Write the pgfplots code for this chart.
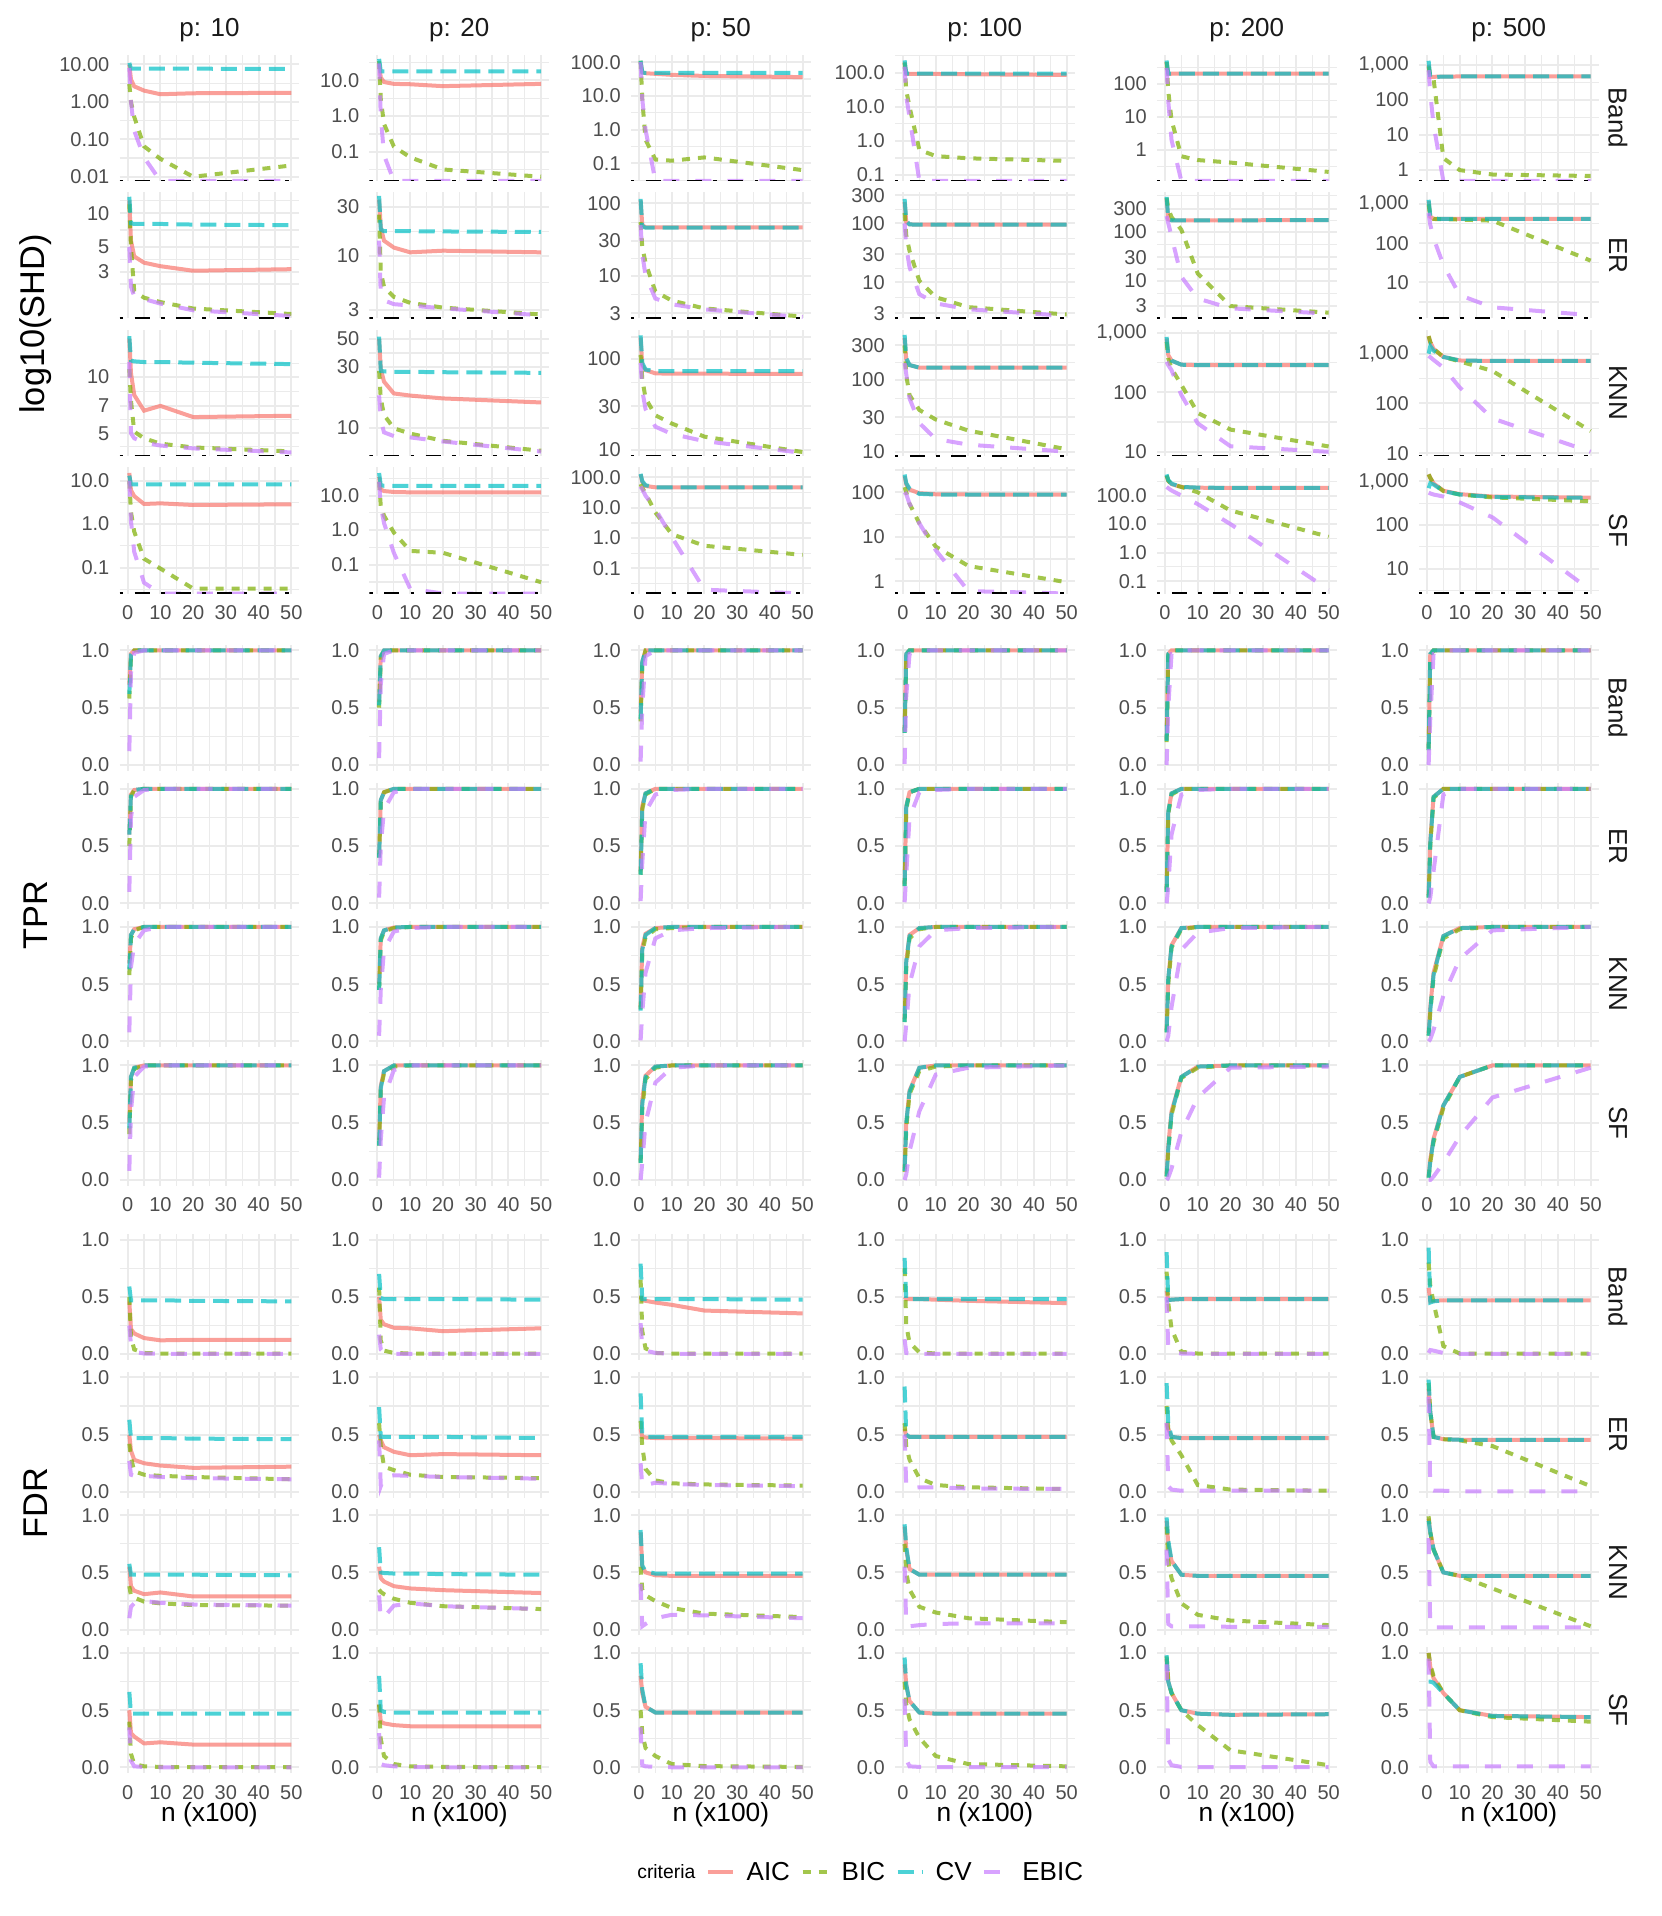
\documentclass[border=0pt]{standalone}
\usepackage{pgfplots}
\pgfplotsset{compat=1.18}
\usepackage{fontspec}
\setmainfont{Liberation Sans}
\definecolor{aicc}{HTML}{F8766D}
\definecolor{bicc}{HTML}{7CAE00}
\definecolor{cvc}{HTML}{00BFC4}
\definecolor{ebicc}{HTML}{C77CFF}
\definecolor{gridc}{HTML}{EBEBEB}
\definecolor{tickc}{HTML}{4D4D4D}
\definecolor{stripc}{HTML}{1A1A1A}
\pgfplotsset{
 base/.style={scale only axis, width=54pt, height=37.8pt, anchor=north west,
  xmin=-2.5, xmax=52.5, xtick={0,10,20,30,40,50}, minor xtick={5,15,25,35,45},
  xticklabels={}, grid=both,
  major grid style={line width=0.6pt, draw=gridc},
  minor grid style={line width=0.35pt, draw=gridc},
  axis line style={draw=none}, tick style={draw=none},
  ticklabel style={font=\fontsize{6}{6}\selectfont, text=tickc, inner sep=0pt},
  yticklabel style={anchor=east, xshift=-2.85pt},
  xticklabel style={anchor=north, yshift=-3.4pt},
 },
 shd/.style={base},
 lin/.style={base, ymin=-0.05, ymax=1.05, ytick={0,0.5,1}, yticklabels={0.0,0.5,1.0}, minor ytick={0.25,0.75}},
 xl/.style={xticklabels={0,10,20,30,40,50}},
 aic/.style={draw=aicc, line width=1.2pt, draw opacity=0.7, mark=none},
 bic/.style={draw=bicc, line width=1.2pt, draw opacity=0.7, dash pattern=on 2.4pt off 2.4pt, mark=none},
 cv/.style={draw=cvc, line width=1.2pt, draw opacity=0.7, dash pattern=on 4.8pt off 2.4pt, mark=none},
 ebic/.style={draw=ebicc, line width=1.2pt, draw opacity=0.7, dash pattern=on 4.8pt off 4.8pt, mark=none},
 ref/.style={draw=black, line width=0.7pt, dash pattern=on 1.1pt off 3.4pt on 4.5pt off 3.4pt, mark=none},
}
\begin{document}
\begin{tikzpicture}
\path[use as bounding box] (0,0) rectangle (498.3pt,-574.8pt);
% ================= SHD =================
% r1 Band
\begin{axis}[ymode=log, shd, at={(35.85pt,-16.5pt)}, ymin=0.0077, ymax=17.9, ytick={0.01,0.1,1,10}, yticklabels={0.01,0.10,1.00,10.00}, minor ytick={0.0316,0.316,3.16}]
\addplot[aic] coordinates {(0.5,10)(1,4)(2,2.6)(5,2.0)(10,1.6)(20,1.7)(50,1.75)};
\addplot[bic] coordinates {(0.5,3)(1,1.0)(2,0.4)(5,0.065)(10,0.03)(20,0.01)(50,0.02)};
\addplot[cv] coordinates {(0.5,11)(1,7.7)(2,7.7)(5,7.7)(10,7.7)(20,7.7)(50,7.6)};
\addplot[ebic] coordinates {(0.5,8)(1,1.0)(2,0.17)(5,0.033)(10,0.0077)(20,0.0077)(50,0.0077)};
\addplot[ref] coordinates {(-2.5,0.0077)(52.5,0.0077)};
\end{axis}
\begin{axis}[ymode=log, shd, at={(110.79pt,-16.5pt)}, ymin=0.0152, ymax=51.5, ytick={0.1,1,10}, yticklabels={0.1,1.0,10.0}, minor ytick={0.0316,0.316,3.16,31.6}]
\addplot[aic] coordinates {(0.5,30)(1,12)(2,9)(5,8)(10,7.8)(20,6.9)(50,8.0)};
\addplot[bic] coordinates {(0.5,35)(1,3)(2,0.6)(5,0.14)(10,0.07)(20,0.032)(50,0.02)};
\addplot[cv] coordinates {(0.5,40)(1,18)(2,18)(5,18)(10,18)(20,18)(50,18)};
\addplot[ebic] coordinates {(0.5,30)(1,1.0)(2,0.08)(5,0.0152)(10,0.0152)(20,0.0152)(50,0.0152)};
\addplot[ref] coordinates {(-2.5,0.0152)(52.5,0.0152)};
\end{axis}
\begin{axis}[ymode=log, shd, at={(189.24pt,-16.5pt)}, ymin=0.030, ymax=163, ytick={0.1,1,10,100}, yticklabels={0.1,1.0,10.0,100.0}, minor ytick={0.0316,0.316,3.16,31.6}]
\addplot[aic] coordinates {(0.5,100)(1,50)(2,47)(5,45)(10,42)(20,39)(50,36)};
\addplot[bic] coordinates {(0.5,110)(1,8)(2,0.5)(5,0.13)(10,0.12)(20,0.15)(50,0.063)};
\addplot[cv] coordinates {(0.5,110)(1,49)(2,48)(5,48)(10,48)(20,48)(50,48)};
\addplot[ebic] coordinates {(0.5,100)(1,8)(2,1.0)(5,0.03)(10,0.03)(20,0.03)(50,0.03)};
\addplot[ref] coordinates {(-2.5,0.03)(52.5,0.03)};
\end{axis}
\begin{axis}[ymode=log, shd, at={(268.44pt,-16.5pt)}, ymin=0.067, ymax=331, ytick={0.1,1,10,100}, yticklabels={0.1,1.0,10.0,100.0}, minor ytick={0.316,3.16,31.6,316}]
\addplot[aic] coordinates {(0.5,200)(1,93)(2,93)(5,93)(10,92)(20,90)(50,86)};
\addplot[bic] coordinates {(0.5,200)(1,30)(2,10)(5,0.55)(10,0.36)(20,0.31)(50,0.26)};
\addplot[cv] coordinates {(0.5,230)(1,95)(2,94)(5,94)(10,94)(20,94)(50,94)};
\addplot[ebic] coordinates {(0.5,150)(1,20)(2,5)(5,0.067)(10,0.067)(20,0.067)(50,0.067)};
\addplot[ref] coordinates {(-2.5,0.067)(52.5,0.067)};
\end{axis}
\begin{axis}[ymode=log, shd, at={(347.04pt,-16.5pt)}, ymin=0.117, ymax=733, ytick={1,10,100}, yticklabels={1,10,100}, minor ytick={0.316,3.16,31.6,316}]
\addplot[aic] coordinates {(0.5,450)(1,195)(2,200)(5,200)(10,200)(20,200)(50,200)};
\addplot[bic] coordinates {(0.5,450)(1,60)(2,8)(5,0.65)(10,0.5)(20,0.42)(50,0.22)};
\addplot[cv] coordinates {(0.5,500)(1,200)(2,200)(5,200)(10,200)(20,200)(50,200)};
\addplot[ebic] coordinates {(0.5,300)(1,30)(2,2)(5,0.117)(10,0.117)(20,0.117)(50,0.117)};
\addplot[ref] coordinates {(-2.5,0.117)(52.5,0.117)};
\end{axis}
\begin{axis}[ymode=log, shd, at={(425.64pt,-16.5pt)}, ymin=0.49, ymax=1900, ytick={1,10,100,1000}, yticklabels={1,10,100,{1,000}}, minor ytick={3.16,31.6,316}]
\addplot[aic] coordinates {(0.5,1000)(1,450)(2,455)(5,460)(10,465)(20,465)(50,465)};
\addplot[bic] coordinates {(0.5,900)(1,450)(2,400)(5,2.2)(10,1.0)(20,0.75)(50,0.68)};
\addplot[cv] coordinates {(0.5,1300)(1,430)(2,450)(5,460)(10,465)(20,465)(50,465)};
\addplot[ebic] coordinates {(0.5,700)(1,150)(2,20)(5,0.49)(10,0.49)(20,0.49)(50,0.49)};
\addplot[ref] coordinates {(-2.5,0.49)(52.5,0.49)};
\end{axis}
% r2 ER
\begin{axis}[ymode=log, shd, at={(35.85pt,-57.75pt)}, ymin=1.14, ymax=15.3, ytick={3,5,10}, yticklabels={3,5,10}, minor ytick={2.32,3.87,7.07,12.9}]
\addplot[aic] coordinates {(0.5,13)(1,5.7)(2,4.1)(5,3.6)(10,3.35)(20,3.05)(50,3.15)};
\addplot[bic] coordinates {(0.5,12)(1,5)(2,2.0)(5,1.75)(10,1.6)(20,1.4)(50,1.25)};
\addplot[cv] coordinates {(0.5,14)(1,8.1)(2,8.0)(5,8.0)(10,8.0)(20,7.9)(50,7.8)};
\addplot[ebic] coordinates {(0.5,5)(1,2.2)(2,1.8)(5,1.7)(10,1.55)(20,1.35)(50,1.2)};
\addplot[ref] coordinates {(-2.5,1.14)(52.5,1.14)};
\end{axis}
\begin{axis}[ymode=log, shd, at={(110.79pt,-57.75pt)}, ymin=2.47, ymax=41, ytick={3,10,30}, yticklabels={3,10,30}, minor ytick={5.48,17.3}]
\addplot[aic] coordinates {(0.5,35)(1,19)(2,14)(5,12)(10,10.8)(20,11.2)(50,10.8)};
\addplot[bic] coordinates {(0.5,25)(1,7)(2,5)(5,4)(10,3.5)(20,3.15)(50,2.7)};
\addplot[cv] coordinates {(0.5,38)(1,18)(2,17.3)(5,17.3)(10,17.3)(20,17.2)(50,17)};
\addplot[ebic] coordinates {(0.5,14)(1,4.2)(2,3.7)(5,3.4)(10,3.3)(20,3.1)(50,2.65)};
\addplot[ref] coordinates {(-2.5,2.47)(52.5,2.47)};
\end{axis}
\begin{axis}[ymode=log, shd, at={(189.24pt,-57.75pt)}, ymin=2.54, ymax=141, ytick={3,10,30,100}, yticklabels={3,10,30,100}, minor ytick={5.48,17.3,54.8}]
\addplot[aic] coordinates {(0.5,110)(1,50)(2,46.5)(5,46.5)(10,46.5)(20,46.5)(50,46.5)};
\addplot[bic] coordinates {(0.5,55)(1,25)(2,15)(5,6)(10,4.5)(20,3.5)(50,2.7)};
\addplot[cv] coordinates {(0.5,115)(1,48)(2,46)(5,46)(10,46)(20,46)(50,46)};
\addplot[ebic] coordinates {(0.5,50)(1,20)(2,10)(5,4.8)(10,4.0)(20,3.4)(50,2.65)};
\addplot[ref] coordinates {(-2.5,2.54)(52.5,2.54)};
\end{axis}
\begin{axis}[ymode=log, shd, at={(268.44pt,-57.75pt)}, ymin=2.44, ymax=334, ytick={3,10,30,100,300}, yticklabels={3,10,30,100,300}, minor ytick={5.48,17.3,54.8,173}]
\addplot[aic] coordinates {(0.5,230)(1,105)(2,96)(5,95)(10,95)(20,95)(50,95)};
\addplot[bic] coordinates {(0.5,150)(1,63)(2,34)(5,10.6)(10,5.6)(20,3.8)(50,2.85)};
\addplot[cv] coordinates {(0.5,260)(1,110)(2,96)(5,95)(10,95)(20,95)(50,95)};
\addplot[ebic] coordinates {(0.5,100)(1,40)(2,18)(5,6.3)(10,4.4)(20,3.5)(50,2.7)};
\addplot[ref] coordinates {(-2.5,2.44)(52.5,2.44)};
\end{axis}
\begin{axis}[ymode=log, shd, at={(347.04pt,-57.75pt)}, ymin=1.67, ymax=640, ytick={3,10,30,100,300}, yticklabels={3,10,30,100,300}, minor ytick={5.48,17.3,54.8,173,548}]
\addplot[aic] coordinates {(0.5,480)(1,180)(2,172)(5,172)(10,172)(20,172)(50,174)};
\addplot[bic] coordinates {(0.5,500)(1,300)(2,200)(5,110)(10,14)(20,3.0)(50,2.2)};
\addplot[cv] coordinates {(0.5,520)(1,185)(2,172)(5,172)(10,172)(20,172)(50,174)};
\addplot[ebic] coordinates {(0.5,210)(1,150)(2,80)(5,12)(10,4.3)(20,2.7)(50,2.1)};
\addplot[ref] coordinates {(-2.5,1.67)(52.5,1.67)};
\end{axis}
\begin{axis}[ymode=log, shd, at={(425.64pt,-57.75pt)}, ymin=1.19, ymax=2000, ytick={10,100,1000}, yticklabels={10,100,{1,000}}, minor ytick={3.16,31.6,316}]
\addplot[aic] coordinates {(0.5,1200)(1,480)(2,425)(5,420)(10,420)(20,420)(50,420)};
\addplot[bic] coordinates {(0.5,1000)(1,480)(2,420)(5,415)(10,405)(20,380)(50,36)};
\addplot[cv] coordinates {(0.5,1300)(1,500)(2,430)(5,420)(10,420)(20,420)(50,420)};
\addplot[ebic] coordinates {(0.5,590)(1,300)(2,135)(5,28)(10,4.7)(20,2.3)(50,1.45)};
\addplot[ref] coordinates {(-2.5,1.19)(52.5,1.19)};
\end{axis}
% r3 KNN
\begin{axis}[ymode=log, shd, at={(35.85pt,-99pt)}, ymin=3.78, ymax=17.8, ytick={5,7,10}, yticklabels={5,7,10}, minor ytick={4.23,5.92,8.37,11.8}]
\addplot[aic] coordinates {(0.5,16)(1,10.5)(2,8.0)(5,6.6)(10,7.0)(20,6.1)(50,6.2)};
\addplot[bic] coordinates {(0.5,11)(1,7.5)(2,5.1)(5,4.7)(10,4.4)(20,4.2)(50,4.0)};
\addplot[cv] coordinates {(0.5,16.5)(1,12.2)(2,12.1)(5,12.0)(10,12.0)(20,11.9)(50,11.7)};
\addplot[ebic] coordinates {(0.5,12)(1,5.0)(2,4.7)(5,4.45)(10,4.3)(20,4.15)(50,3.95)};
\addplot[ref] coordinates {(-2.5,3.78)(52.5,3.78)};
\end{axis}
\begin{axis}[ymode=log, shd, at={(110.79pt,-99pt)}, ymin=6.0, ymax=58.6, ytick={10,30,50}, yticklabels={10,30,50}, minor ytick={17.3,38.7}]
\addplot[aic] coordinates {(0.5,50)(1,29)(2,23)(5,18.6)(10,17.9)(20,17)(50,15.8)};
\addplot[bic] coordinates {(0.5,28)(1,17)(2,12.6)(5,9.9)(10,9.0)(20,7.9)(50,6.6)};
\addplot[cv] coordinates {(0.5,52)(1,28)(2,27.7)(5,27.5)(10,27.5)(20,27.3)(50,27.0)};
\addplot[ebic] coordinates {(0.5,18)(1,11.5)(2,9.2)(5,8.6)(10,8.4)(20,7.8)(50,6.5)};
\addplot[ref] coordinates {(-2.5,6.0)(52.5,6.0)};
\end{axis}
\begin{axis}[ymode=log, shd, at={(189.24pt,-99pt)}, ymin=8.6, ymax=206, ytick={10,30,100}, yticklabels={10,30,100}, minor ytick={17.3,54.8,173}]
\addplot[aic] coordinates {(0.5,170)(1,85)(2,75)(5,69)(10,68.5)(20,68.5)(50,68)};
\addplot[bic] coordinates {(0.5,110)(1,60)(2,37)(5,24)(10,19.5)(20,14)(50,9.5)};
\addplot[cv] coordinates {(0.5,180)(1,90)(2,76)(5,73)(10,73)(20,73)(50,73)};
\addplot[ebic] coordinates {(0.5,90)(1,45)(2,28)(5,18)(10,15)(20,12.5)(50,9.3)};
\addplot[ref] coordinates {(-2.5,8.6)(52.5,8.6)};
\end{axis}
\begin{axis}[ymode=log, shd, at={(268.44pt,-99pt)}, ymin=8.7, ymax=491, ytick={10,30,100,300}, yticklabels={10,30,100,300}, minor ytick={17.3,54.8,173}]
\addplot[aic] coordinates {(0.5,380)(1,190)(2,160)(5,147)(10,147)(20,147)(50,147)};
\addplot[bic] coordinates {(0.5,300)(1,115)(2,61)(5,38)(10,28)(20,19.6)(50,10.8)};
\addplot[cv] coordinates {(0.5,420)(1,200)(2,160)(5,147)(10,147)(20,147)(50,147)};
\addplot[ebic] coordinates {(0.5,170)(1,120)(2,55)(5,25)(10,15)(20,12.5)(50,10)};
\addplot[ref] coordinates {(-2.5,8.7)(52.5,8.7)};
\end{axis}
\begin{axis}[ymode=log, shd, at={(347.04pt,-99pt)}, ymin=8.5, ymax=1110, ytick={10,100,1000}, yticklabels={10,100,{1,000}}, minor ytick={31.6,316}]
\addplot[aic] coordinates {(0.5,800)(1,420)(2,340)(5,290)(10,285)(20,285)(50,285)};
\addplot[bic] coordinates {(0.5,700)(1,370)(2,250)(5,133)(10,45)(20,23.6)(50,12.3)};
\addplot[cv] coordinates {(0.5,850)(1,420)(2,340)(5,290)(10,285)(20,285)(50,285)};
\addplot[ebic] coordinates {(0.5,325)(1,285)(2,235)(5,90)(10,30)(20,12.4)(50,10)};
\addplot[ref] coordinates {(-2.5,8.5)(52.5,8.5)};
\end{axis}
\begin{axis}[ymode=log, shd, at={(425.64pt,-99pt)}, ymin=8.8, ymax=2990, ytick={10,100,1000}, yticklabels={10,100,{1,000}}, minor ytick={31.6,316}]
\addplot[aic] coordinates {(0.5,2250)(1,1700)(2,1250)(5,860)(10,730)(20,713)(50,713)};
\addplot[bic] coordinates {(0.5,2250)(1,1700)(2,1250)(5,860)(10,700)(20,450)(50,28)};
\addplot[cv] coordinates {(0.5,1000)(1,1420)(2,1150)(5,860)(10,730)(20,713)(50,713)};
\addplot[ebic] coordinates {(0.5,900)(1,850)(2,750)(5,525)(10,210)(20,50)(50,10.7)};
\addplot[ref] coordinates {(-2.5,8.8)(52.5,8.8)};
\end{axis}
% r4 SF
\begin{axis}[ymode=log, shd, xl, at={(35.85pt,-140.25pt)}, ymin=0.0254, ymax=20, ytick={0.1,1,10}, yticklabels={0.1,1.0,10.0}, minor ytick={0.0316,0.316,3.16}]
\addplot[aic] coordinates {(0.5,15)(1,6)(2,4.4)(5,2.9)(10,3.0)(20,2.75)(50,2.85)};
\addplot[bic] coordinates {(0.5,10)(1,1.9)(2,0.67)(5,0.16)(10,0.095)(20,0.033)(50,0.033)};
\addplot[cv] coordinates {(0.5,13)(1,8.2)(2,8.2)(5,8.2)(10,8.2)(20,8.2)(50,8.2)};
\addplot[ebic] coordinates {(0.5,10)(1,1.2)(2,0.23)(5,0.045)(10,0.0254)(20,0.0254)(50,0.0254)};
\addplot[ref] coordinates {(-2.5,0.0254)(52.5,0.0254)};
\end{axis}
\begin{axis}[ymode=log, shd, xl, at={(110.79pt,-140.25pt)}, ymin=0.0146, ymax=65, ytick={0.1,1,10}, yticklabels={0.1,1.0,10.0}, minor ytick={0.0316,0.316,3.16,31.6}]
\addplot[aic] coordinates {(0.5,35)(1,15)(2,13.5)(5,12.7)(10,12.4)(20,12.4)(50,12.4)};
\addplot[bic] coordinates {(0.5,25)(1,5)(2,2.6)(5,0.85)(10,0.25)(20,0.22)(50,0.031)};
\addplot[cv] coordinates {(0.5,45)(1,20)(2,19.2)(5,19.2)(10,19.2)(20,19.2)(50,19.2)};
\addplot[ebic] coordinates {(0.5,25)(1,5)(2,1.6)(5,0.22)(10,0.02)(20,0.0146)(50,0.0146)};
\addplot[ref] coordinates {(-2.5,0.0146)(52.5,0.0146)};
\end{axis}
\begin{axis}[ymode=log, shd, xl, at={(189.24pt,-140.25pt)}, ymin=0.015, ymax=211, ytick={0.1,1,10,100}, yticklabels={0.1,1.0,10.0,100.0}, minor ytick={0.0316,0.316,3.16,31.6}]
\addplot[aic] coordinates {(0.5,125)(1,70)(2,52)(5,47)(10,47)(20,47)(50,47)};
\addplot[bic] coordinates {(0.5,60)(1,45)(2,30)(5,7)(10,1.35)(20,0.56)(50,0.28)};
\addplot[cv] coordinates {(0.5,130)(1,75)(2,55)(5,47)(10,47)(20,47)(50,47)};
\addplot[ebic] coordinates {(0.5,50)(1,40)(2,25)(5,9)(10,1.1)(20,0.02)(50,0.015)};
\addplot[ref] coordinates {(-2.5,0.015)(52.5,0.015)};
\end{axis}
\begin{axis}[ymode=log, shd, xl, at={(268.44pt,-140.25pt)}, ymin=0.53, ymax=360, ytick={1,10,100}, yticklabels={1,10,100}, minor ytick={3.16,31.6,316}]
\addplot[aic] coordinates {(0.5,230)(1,150)(2,115)(5,95)(10,90)(20,89)(50,89)};
\addplot[bic] coordinates {(0.5,130)(1,100)(2,55)(5,20)(10,6)(20,2.2)(50,0.95)};
\addplot[cv] coordinates {(0.5,250)(1,160)(2,120)(5,92)(10,89)(20,89)(50,89)};
\addplot[ebic] coordinates {(0.5,100)(1,90)(2,55)(5,20)(10,5)(20,0.6)(50,0.53)};
\addplot[ref] coordinates {(-2.5,0.53)(52.5,0.53)};
\end{axis}
\begin{axis}[ymode=log, shd, xl, at={(347.04pt,-140.25pt)}, ymin=0.037, ymax=960, ytick={0.1,1,10,100}, yticklabels={0.1,1.0,10.0,100.0}, minor ytick={0.316,3.16,31.6,316}]
\addplot[aic] coordinates {(0.5,500)(1,330)(2,250)(5,200)(10,188)(20,185)(50,185)};
\addplot[bic] coordinates {(0.5,500)(1,330)(2,250)(5,200)(10,130)(20,30)(50,3.6)};
\addplot[cv] coordinates {(0.5,550)(1,350)(2,260)(5,200)(10,190)(20,185)(50,185)};
\addplot[ebic] coordinates {(0.5,200)(1,180)(2,150)(5,100)(10,50)(20,10)(50,0.05)};
\addplot[ref] coordinates {(-2.5,0.037)(52.5,0.037)};
\end{axis}
\begin{axis}[ymode=log, shd, xl, at={(425.64pt,-140.25pt)}, ymin=2.7, ymax=2080, ytick={10,100,1000}, yticklabels={10,100,{1,000}}, minor ytick={3.16,31.6,316}]
\addplot[aic] coordinates {(0.5,1450)(1,1200)(2,900)(5,610)(10,510)(20,450)(50,425)};
\addplot[bic] coordinates {(0.5,1450)(1,1200)(2,900)(5,600)(10,500)(20,430)(50,350)};
\addplot[cv] coordinates {(0.5,700)(1,900)(2,850)(5,600)(10,500)(20,440)(50,420)};
\addplot[ebic] coordinates {(0.5,550)(1,530)(2,500)(5,450)(10,330)(20,150)(50,3.2)};
\addplot[ref] coordinates {(-2.5,2.7)(52.5,2.7)};
\end{axis}
% ================= TPR =================
% r5 Band
\begin{axis}[lin, at={(35.85pt,-193.41pt)}]
\addplot[aic] coordinates {(0.5,0.7)(1,0.97)(2,1)(5,1)(10,1)(20,1)(50,1)};
\addplot[bic] coordinates {(0.5,0.58)(1,0.95)(2,1)(5,1)(10,1)(20,1)(50,1)};
\addplot[cv] coordinates {(0.5,0.62)(1,0.96)(2,1)(5,1)(10,1)(20,1)(50,1)};
\addplot[ebic] coordinates {(0.5,0.12)(1,0.8)(2,0.98)(5,1)(10,1)(20,1)(50,1)};
\end{axis}
\begin{axis}[lin, at={(110.79pt,-193.41pt)}]
\addplot[aic] coordinates {(0.5,0.55)(1,0.95)(2,1)(5,1)(10,1)(20,1)(50,1)};
\addplot[bic] coordinates {(0.5,0.5)(1,0.93)(2,1)(5,1)(10,1)(20,1)(50,1)};
\addplot[cv] coordinates {(0.5,0.52)(1,0.95)(2,1)(5,1)(10,1)(20,1)(50,1)};
\addplot[ebic] coordinates {(0.5,0.06)(1,0.7)(2,0.97)(5,1)(10,1)(20,1)(50,1)};
\end{axis}
\begin{axis}[lin, at={(189.24pt,-193.41pt)}]
\addplot[aic] coordinates {(0.5,0.45)(1,0.9)(2,1)(5,1)(10,1)(20,1)(50,1)};
\addplot[bic] coordinates {(0.5,0.38)(1,0.88)(2,1)(5,1)(10,1)(20,1)(50,1)};
\addplot[cv] coordinates {(0.5,0.4)(1,0.9)(2,1)(5,1)(10,1)(20,1)(50,1)};
\addplot[ebic] coordinates {(0.5,0.03)(1,0.5)(2,0.95)(5,1)(10,1)(20,1)(50,1)};
\end{axis}
\begin{axis}[lin, at={(268.44pt,-193.41pt)}]
\addplot[aic] coordinates {(0.5,0.3)(1,0.97)(2,1)(5,1)(10,1)(20,1)(50,1)};
\addplot[bic] coordinates {(0.5,0.28)(1,0.95)(2,1)(5,1)(10,1)(20,1)(50,1)};
\addplot[cv] coordinates {(0.5,0.28)(1,0.97)(2,1)(5,1)(10,1)(20,1)(50,1)};
\addplot[ebic] coordinates {(0.5,0.01)(1,0.6)(2,0.97)(5,1)(10,1)(20,1)(50,1)};
\end{axis}
\begin{axis}[lin, at={(347.04pt,-193.41pt)}]
\addplot[aic] coordinates {(0.5,0.22)(1,0.97)(2,1)(5,1)(10,1)(20,1)(50,1)};
\addplot[bic] coordinates {(0.5,0.2)(1,0.96)(2,1)(5,1)(10,1)(20,1)(50,1)};
\addplot[cv] coordinates {(0.5,0.21)(1,0.97)(2,1)(5,1)(10,1)(20,1)(50,1)};
\addplot[ebic] coordinates {(0.5,0.0)(1,0.5)(2,0.97)(5,1)(10,1)(20,1)(50,1)};
\end{axis}
\begin{axis}[lin, at={(425.64pt,-193.41pt)}]
\addplot[aic] coordinates {(0.5,0.15)(1,0.97)(2,1)(5,1)(10,1)(20,1)(50,1)};
\addplot[bic] coordinates {(0.5,0.13)(1,0.95)(2,1)(5,1)(10,1)(20,1)(50,1)};
\addplot[cv] coordinates {(0.5,0.13)(1,0.97)(2,1)(5,1)(10,1)(20,1)(50,1)};
\addplot[ebic] coordinates {(0.5,0.0)(1,0.4)(2,0.97)(5,1)(10,1)(20,1)(50,1)};
\end{axis}
% r6 ER
\begin{axis}[lin, at={(35.85pt,-234.93pt)}]
\addplot[aic] coordinates {(0.5,0.6)(1,0.95)(2,0.99)(5,1)(10,1)(20,1)(50,1)};
\addplot[bic] coordinates {(0.5,0.5)(1,0.93)(2,0.99)(5,1)(10,1)(20,1)(50,1)};
\addplot[cv] coordinates {(0.5,0.6)(1,0.95)(2,0.99)(5,1)(10,1)(20,1)(50,1)};
\addplot[ebic] coordinates {(0.5,0.1)(1,0.75)(2,0.93)(5,0.99)(10,1)(20,1)(50,1)};
\end{axis}
\begin{axis}[lin, at={(110.79pt,-234.93pt)}]
\addplot[aic] coordinates {(0.5,0.42)(1,0.9)(2,0.97)(5,1)(10,1)(20,1)(50,1)};
\addplot[bic] coordinates {(0.5,0.4)(1,0.88)(2,0.97)(5,1)(10,1)(20,1)(50,1)};
\addplot[cv] coordinates {(0.5,0.4)(1,0.9)(2,0.97)(5,1)(10,1)(20,1)(50,1)};
\addplot[ebic] coordinates {(0.5,0.05)(1,0.5)(2,0.82)(5,0.97)(10,1)(20,1)(50,1)};
\end{axis}
\begin{axis}[lin, at={(189.24pt,-234.93pt)}]
\addplot[aic] coordinates {(0.5,0.28)(1,0.85)(2,0.96)(5,1)(10,1)(20,1)(50,1)};
\addplot[bic] coordinates {(0.5,0.25)(1,0.82)(2,0.95)(5,1)(10,1)(20,1)(50,1)};
\addplot[cv] coordinates {(0.5,0.25)(1,0.83)(2,0.96)(5,1)(10,1)(20,1)(50,1)};
\addplot[ebic] coordinates {(0.5,0.02)(1,0.35)(2,0.8)(5,0.95)(10,0.99)(20,1)(50,1)};
\end{axis}
\begin{axis}[lin, at={(268.44pt,-234.93pt)}]
\addplot[aic] coordinates {(0.5,0.17)(1,0.85)(2,0.97)(5,1)(10,1)(20,1)(50,1)};
\addplot[bic] coordinates {(0.5,0.15)(1,0.82)(2,0.97)(5,1)(10,1)(20,1)(50,1)};
\addplot[cv] coordinates {(0.5,0.15)(1,0.84)(2,0.97)(5,1)(10,1)(20,1)(50,1)};
\addplot[ebic] coordinates {(0.5,0.01)(1,0.25)(2,0.75)(5,0.97)(10,0.99)(20,1)(50,1)};
\end{axis}
\begin{axis}[lin, at={(347.04pt,-234.93pt)}]
\addplot[aic] coordinates {(0.5,0.12)(1,0.8)(2,0.96)(5,1)(10,1)(20,1)(50,1)};
\addplot[bic] coordinates {(0.5,0.1)(1,0.78)(2,0.95)(5,1)(10,1)(20,1)(50,1)};
\addplot[cv] coordinates {(0.5,0.1)(1,0.8)(2,0.96)(5,1)(10,1)(20,1)(50,1)};
\addplot[ebic] coordinates {(0.5,0.0)(1,0.15)(2,0.6)(5,0.95)(10,0.99)(20,1)(50,1)};
\end{axis}
\begin{axis}[lin, at={(425.64pt,-234.93pt)}]
\addplot[aic] coordinates {(0.5,0.07)(1,0.55)(2,0.93)(5,1)(10,1)(20,1)(50,1)};
\addplot[bic] coordinates {(0.5,0.05)(1,0.5)(2,0.92)(5,1)(10,1)(20,1)(50,1)};
\addplot[cv] coordinates {(0.5,0.05)(1,0.52)(2,0.93)(5,1)(10,1)(20,1)(50,1)};
\addplot[ebic] coordinates {(0.5,0.0)(1,0.05)(2,0.28)(5,0.95)(10,1)(20,1)(50,1)};
\end{axis}
% r7 KNN
\begin{axis}[lin, at={(35.85pt,-276.36pt)}]
\addplot[aic] coordinates {(0.5,0.68)(1,0.93)(2,0.98)(5,1)(10,1)(20,1)(50,1)};
\addplot[bic] coordinates {(0.5,0.58)(1,0.9)(2,0.97)(5,1)(10,1)(20,1)(50,1)};
\addplot[cv] coordinates {(0.5,0.63)(1,0.93)(2,0.98)(5,1)(10,1)(20,1)(50,1)};
\addplot[ebic] coordinates {(0.5,0.08)(1,0.65)(2,0.85)(5,0.97)(10,1)(20,1)(50,1)};
\end{axis}
\begin{axis}[lin, at={(110.79pt,-276.36pt)}]
\addplot[aic] coordinates {(0.5,0.5)(1,0.9)(2,0.97)(5,0.995)(10,1)(20,1)(50,1)};
\addplot[bic] coordinates {(0.5,0.45)(1,0.88)(2,0.96)(5,0.99)(10,1)(20,1)(50,1)};
\addplot[cv] coordinates {(0.5,0.45)(1,0.9)(2,0.97)(5,0.995)(10,1)(20,1)(50,1)};
\addplot[ebic] coordinates {(0.5,0.05)(1,0.45)(2,0.8)(5,0.96)(10,0.99)(20,1)(50,1)};
\end{axis}
\begin{axis}[lin, at={(189.24pt,-276.36pt)}]
\addplot[aic] coordinates {(0.5,0.3)(1,0.82)(2,0.94)(5,0.99)(10,1)(20,1)(50,1)};
\addplot[bic] coordinates {(0.5,0.28)(1,0.78)(2,0.91)(5,0.98)(10,0.99)(20,1)(50,1)};
\addplot[cv] coordinates {(0.5,0.27)(1,0.8)(2,0.93)(5,0.99)(10,1)(20,1)(50,1)};
\addplot[ebic] coordinates {(0.5,0.01)(1,0.25)(2,0.6)(5,0.9)(10,0.97)(20,0.99)(50,1)};
\end{axis}
\begin{axis}[lin, at={(268.44pt,-276.36pt)}]
\addplot[aic] coordinates {(0.5,0.2)(1,0.7)(2,0.93)(5,0.99)(10,1)(20,1)(50,1)};
\addplot[bic] coordinates {(0.5,0.17)(1,0.65)(2,0.9)(5,0.98)(10,1)(20,1)(50,1)};
\addplot[cv] coordinates {(0.5,0.17)(1,0.7)(2,0.92)(5,0.99)(10,1)(20,1)(50,1)};
\addplot[ebic] coordinates {(0.5,0.0)(1,0.15)(2,0.5)(5,0.83)(10,0.97)(20,0.99)(50,1)};
\end{axis}
\begin{axis}[lin, at={(347.04pt,-276.36pt)}]
\addplot[aic] coordinates {(0.5,0.1)(1,0.55)(2,0.84)(5,0.99)(10,1)(20,1)(50,1)};
\addplot[bic] coordinates {(0.5,0.08)(1,0.5)(2,0.82)(5,0.98)(10,1)(20,1)(50,1)};
\addplot[cv] coordinates {(0.5,0.08)(1,0.55)(2,0.83)(5,0.99)(10,1)(20,1)(50,1)};
\addplot[ebic] coordinates {(0.5,0.0)(1,0.05)(2,0.3)(5,0.8)(10,0.95)(20,0.99)(50,1)};
\end{axis}
\begin{axis}[lin, at={(425.64pt,-276.36pt)}]
\addplot[aic] coordinates {(0.5,0.07)(1,0.3)(2,0.6)(5,0.92)(10,0.99)(20,1)(50,1)};
\addplot[bic] coordinates {(0.5,0.05)(1,0.25)(2,0.56)(5,0.9)(10,0.98)(20,1)(50,1)};
\addplot[cv] coordinates {(0.5,0.05)(1,0.27)(2,0.58)(5,0.92)(10,0.99)(20,1)(50,1)};
\addplot[ebic] coordinates {(0.5,0.0)(1,0.02)(2,0.1)(5,0.4)(10,0.72)(20,0.97)(50,1)};
\end{axis}
% r8 SF
\begin{axis}[lin, xl, at={(35.85pt,-317.91pt)}]
\addplot[aic] coordinates {(0.5,0.5)(1,0.9)(2,0.98)(5,1)(10,1)(20,1)(50,1)};
\addplot[bic] coordinates {(0.5,0.4)(1,0.87)(2,0.97)(5,1)(10,1)(20,1)(50,1)};
\addplot[cv] coordinates {(0.5,0.45)(1,0.9)(2,0.98)(5,1)(10,1)(20,1)(50,1)};
\addplot[ebic] coordinates {(0.5,0.08)(1,0.6)(2,0.9)(5,0.99)(10,1)(20,1)(50,1)};
\end{axis}
\begin{axis}[lin, xl, at={(110.79pt,-317.91pt)}]
\addplot[aic] coordinates {(0.5,0.35)(1,0.82)(2,0.95)(5,1)(10,1)(20,1)(50,1)};
\addplot[bic] coordinates {(0.5,0.3)(1,0.8)(2,0.93)(5,0.99)(10,1)(20,1)(50,1)};
\addplot[cv] coordinates {(0.5,0.3)(1,0.8)(2,0.95)(5,1)(10,1)(20,1)(50,1)};
\addplot[ebic] coordinates {(0.5,0.02)(1,0.35)(2,0.72)(5,0.96)(10,1)(20,1)(50,1)};
\end{axis}
\begin{axis}[lin, xl, at={(189.24pt,-317.91pt)}]
\addplot[aic] coordinates {(0.5,0.17)(1,0.7)(2,0.91)(5,0.99)(10,1)(20,1)(50,1)};
\addplot[bic] coordinates {(0.5,0.15)(1,0.62)(2,0.88)(5,0.98)(10,1)(20,1)(50,1)};
\addplot[cv] coordinates {(0.5,0.15)(1,0.66)(2,0.9)(5,0.99)(10,1)(20,1)(50,1)};
\addplot[ebic] coordinates {(0.5,0.0)(1,0.15)(2,0.5)(5,0.85)(10,0.98)(20,1)(50,1)};
\end{axis}
\begin{axis}[lin, xl, at={(268.44pt,-317.91pt)}]
\addplot[aic] coordinates {(0.5,0.1)(1,0.5)(2,0.78)(5,0.98)(10,1)(20,1)(50,1)};
\addplot[bic] coordinates {(0.5,0.07)(1,0.45)(2,0.75)(5,0.95)(10,0.99)(20,1)(50,1)};
\addplot[cv] coordinates {(0.5,0.08)(1,0.5)(2,0.77)(5,0.98)(10,1)(20,1)(50,1)};
\addplot[ebic] coordinates {(0.5,0.0)(1,0.05)(2,0.25)(5,0.6)(10,0.92)(20,0.98)(50,1)};
\end{axis}
\begin{axis}[lin, xl, at={(347.04pt,-317.91pt)}]
\addplot[aic] coordinates {(0.5,0.05)(1,0.3)(2,0.6)(5,0.9)(10,0.99)(20,1)(50,1)};
\addplot[bic] coordinates {(0.5,0.03)(1,0.25)(2,0.57)(5,0.89)(10,0.98)(20,1)(50,1)};
\addplot[cv] coordinates {(0.5,0.03)(1,0.27)(2,0.58)(5,0.9)(10,0.99)(20,1)(50,1)};
\addplot[ebic] coordinates {(0.5,0.0)(1,0.02)(2,0.1)(5,0.42)(10,0.72)(20,0.98)(50,0.99)};
\end{axis}
\begin{axis}[lin, xl, at={(425.64pt,-317.91pt)}]
\addplot[aic] coordinates {(0.5,0.03)(1,0.18)(2,0.36)(5,0.65)(10,0.9)(20,1)(50,1)};
\addplot[bic] coordinates {(0.5,0.02)(1,0.15)(2,0.33)(5,0.63)(10,0.9)(20,1)(50,1)};
\addplot[cv] coordinates {(0.5,0.02)(1,0.16)(2,0.35)(5,0.65)(10,0.9)(20,1)(50,1)};
\addplot[ebic] coordinates {(0.5,0.0)(1,0.0)(2,0.03)(5,0.15)(10,0.38)(20,0.72)(50,0.98)};
\end{axis}
% ================= FDR =================
% r9 Band
\begin{axis}[lin, at={(35.85pt,-370.14pt)}]
\addplot[aic] coordinates {(0.5,0.46)(1,0.22)(2,0.18)(5,0.14)(10,0.12)(20,0.125)(50,0.125)};
\addplot[bic] coordinates {(0.5,0.5)(1,0.15)(2,0.04)(5,0.01)(10,0.005)(20,0.003)(50,0.003)};
\addplot[cv] coordinates {(0.5,0.59)(1,0.47)(2,0.47)(5,0.47)(10,0.47)(20,0.465)(50,0.46)};
\addplot[ebic] coordinates {(0.5,0.25)(1,0.08)(2,0.02)(5,0.005)(10,0.002)(20,0.002)(50,0.002)};
\end{axis}
\begin{axis}[lin, at={(110.79pt,-370.14pt)}]
\addplot[aic] coordinates {(0.5,0.5)(1,0.3)(2,0.26)(5,0.23)(10,0.225)(20,0.2)(50,0.225)};
\addplot[bic] coordinates {(0.5,0.58)(1,0.12)(2,0.03)(5,0.01)(10,0.005)(20,0.003)(50,0.003)};
\addplot[cv] coordinates {(0.5,0.7)(1,0.49)(2,0.48)(5,0.48)(10,0.48)(20,0.48)(50,0.475)};
\addplot[ebic] coordinates {(0.5,0.17)(1,0.04)(2,0.01)(5,0.003)(10,0.002)(20,0.002)(50,0.002)};
\end{axis}
\begin{axis}[lin, at={(189.24pt,-370.14pt)}]
\addplot[aic] coordinates {(0.5,0.5)(1,0.47)(2,0.465)(5,0.45)(10,0.43)(20,0.38)(50,0.355)};
\addplot[bic] coordinates {(0.5,0.65)(1,0.2)(2,0.05)(5,0.01)(10,0.005)(20,0.003)(50,0.003)};
\addplot[cv] coordinates {(0.5,0.79)(1,0.48)(2,0.48)(5,0.48)(10,0.48)(20,0.48)(50,0.475)};
\addplot[ebic] coordinates {(0.5,0.27)(1,0.05)(2,0.03)(5,0.01)(10,0.003)(20,0.002)(50,0.002)};
\end{axis}
\begin{axis}[lin, at={(268.44pt,-370.14pt)}]
\addplot[aic] coordinates {(0.5,0.5)(1,0.48)(2,0.48)(5,0.48)(10,0.475)(20,0.465)(50,0.445)};
\addplot[bic] coordinates {(0.5,0.75)(1,0.25)(2,0.1)(5,0.015)(10,0.005)(20,0.003)(50,0.003)};
\addplot[cv] coordinates {(0.5,0.84)(1,0.48)(2,0.48)(5,0.48)(10,0.48)(20,0.48)(50,0.48)};
\addplot[ebic] coordinates {(0.5,0.13)(1,0.01)(2,0.005)(5,0.003)(10,0.002)(20,0.002)(50,0.002)};
\end{axis}
\begin{axis}[lin, at={(347.04pt,-370.14pt)}]
\addplot[aic] coordinates {(0.5,0.55)(1,0.47)(2,0.475)(5,0.48)(10,0.48)(20,0.48)(50,0.48)};
\addplot[bic] coordinates {(0.5,0.72)(1,0.45)(2,0.22)(5,0.02)(10,0.005)(20,0.003)(50,0.003)};
\addplot[cv] coordinates {(0.5,0.89)(1,0.47)(2,0.475)(5,0.48)(10,0.48)(20,0.48)(50,0.48)};
\addplot[ebic] coordinates {(0.5,0.5)(1,0.05)(2,0.02)(5,0.005)(10,0.002)(20,0.002)(50,0.002)};
\end{axis}
\begin{axis}[lin, at={(425.64pt,-370.14pt)}]
\addplot[aic] coordinates {(0.5,0.58)(1,0.46)(2,0.465)(5,0.47)(10,0.47)(20,0.47)(50,0.47)};
\addplot[bic] coordinates {(0.5,0.8)(1,0.6)(2,0.45)(5,0.07)(10,0.005)(20,0.003)(50,0.003)};
\addplot[cv] coordinates {(0.5,0.93)(1,0.45)(2,0.46)(5,0.47)(10,0.47)(20,0.47)(50,0.47)};
\addplot[ebic] coordinates {(0.5,0.01)(1,0.035)(2,0.03)(5,0.01)(10,0.002)(20,0.002)(50,0.002)};
\end{axis}
% r10 ER
\begin{axis}[lin, at={(35.85pt,-411.48pt)}]
\addplot[aic] coordinates {(0.5,0.5)(1,0.36)(2,0.28)(5,0.25)(10,0.23)(20,0.21)(50,0.22)};
\addplot[bic] coordinates {(0.5,0.42)(1,0.3)(2,0.18)(5,0.15)(10,0.14)(20,0.13)(50,0.11)};
\addplot[cv] coordinates {(0.5,0.63)(1,0.47)(2,0.47)(5,0.47)(10,0.47)(20,0.465)(50,0.46)};
\addplot[ebic] coordinates {(0.5,0.27)(1,0.15)(2,0.14)(5,0.14)(10,0.13)(20,0.12)(50,0.11)};
\end{axis}
\begin{axis}[lin, at={(110.79pt,-411.48pt)}]
\addplot[aic] coordinates {(0.5,0.5)(1,0.45)(2,0.39)(5,0.35)(10,0.32)(20,0.33)(50,0.32)};
\addplot[bic] coordinates {(0.5,0.6)(1,0.4)(2,0.22)(5,0.19)(10,0.15)(20,0.13)(50,0.12)};
\addplot[cv] coordinates {(0.5,0.74)(1,0.48)(2,0.48)(5,0.48)(10,0.48)(20,0.48)(50,0.47)};
\addplot[ebic] coordinates {(0.5,0.45)(1,0.05)(2,0.13)(5,0.145)(10,0.14)(20,0.13)(50,0.115)};
\end{axis}
\begin{axis}[lin, at={(189.24pt,-411.48pt)}]
\addplot[aic] coordinates {(0.5,0.55)(1,0.48)(2,0.475)(5,0.47)(10,0.47)(20,0.47)(50,0.465)};
\addplot[bic] coordinates {(0.5,0.62)(1,0.4)(2,0.2)(5,0.1)(10,0.075)(20,0.065)(50,0.055)};
\addplot[cv] coordinates {(0.5,0.86)(1,0.5)(2,0.48)(5,0.48)(10,0.48)(20,0.48)(50,0.48)};
\addplot[ebic] coordinates {(0.5,0.25)(1,0.05)(2,0.06)(5,0.08)(10,0.07)(20,0.06)(50,0.05)};
\end{axis}
\begin{axis}[lin, at={(268.44pt,-411.48pt)}]
\addplot[aic] coordinates {(0.5,0.55)(1,0.49)(2,0.48)(5,0.48)(10,0.48)(20,0.48)(50,0.48)};
\addplot[bic] coordinates {(0.5,0.6)(1,0.4)(2,0.28)(5,0.12)(10,0.06)(20,0.04)(50,0.025)};
\addplot[cv] coordinates {(0.5,0.92)(1,0.5)(2,0.48)(5,0.48)(10,0.48)(20,0.48)(50,0.48)};
\addplot[ebic] coordinates {(0.5,0.5)(1,0.04)(2,0.035)(5,0.04)(10,0.04)(20,0.03)(50,0.025)};
\end{axis}
\begin{axis}[lin, at={(347.04pt,-411.48pt)}]
\addplot[aic] coordinates {(0.5,0.6)(1,0.55)(2,0.48)(5,0.47)(10,0.47)(20,0.47)(50,0.47)};
\addplot[bic] coordinates {(0.5,0.75)(1,0.55)(2,0.45)(5,0.32)(10,0.06)(20,0.02)(50,0.01)};
\addplot[cv] coordinates {(0.5,0.95)(1,0.6)(2,0.48)(5,0.47)(10,0.47)(20,0.47)(50,0.47)};
\addplot[ebic] coordinates {(0.5,0.6)(1,0.05)(2,0.02)(5,0.01)(10,0.01)(20,0.01)(50,0.01)};
\end{axis}
\begin{axis}[lin, at={(425.64pt,-411.48pt)}]
\addplot[aic] coordinates {(0.5,0.9)(1,0.7)(2,0.48)(5,0.46)(10,0.455)(20,0.455)(50,0.455)};
\addplot[bic] coordinates {(0.5,0.95)(1,0.7)(2,0.48)(5,0.46)(10,0.45)(20,0.4)(50,0.05)};
\addplot[cv] coordinates {(0.5,0.98)(1,0.7)(2,0.48)(5,0.46)(10,0.455)(20,0.455)(50,0.455)};
\addplot[ebic] coordinates {(0.5,0.83)(1,0.02)(2,0.01)(5,0.01)(10,0.005)(20,0.005)(50,0.005)};
\end{axis}
% r11 KNN
\begin{axis}[lin, at={(35.85pt,-452.82pt)}]
\addplot[aic] coordinates {(0.5,0.55)(1,0.38)(2,0.34)(5,0.31)(10,0.325)(20,0.29)(50,0.29)};
\addplot[bic] coordinates {(0.5,0.38)(1,0.3)(2,0.28)(5,0.245)(10,0.23)(20,0.215)(50,0.21)};
\addplot[cv] coordinates {(0.5,0.575)(1,0.48)(2,0.48)(5,0.48)(10,0.48)(20,0.48)(50,0.475)};
\addplot[ebic] coordinates {(0.5,0.1)(1,0.2)(2,0.23)(5,0.25)(10,0.235)(20,0.22)(50,0.21)};
\end{axis}
\begin{axis}[lin, at={(110.79pt,-452.82pt)}]
\addplot[aic] coordinates {(0.5,0.55)(1,0.45)(2,0.42)(5,0.38)(10,0.36)(20,0.345)(50,0.32)};
\addplot[bic] coordinates {(0.5,0.35)(1,0.33)(2,0.31)(5,0.27)(10,0.235)(20,0.205)(50,0.18)};
\addplot[cv] coordinates {(0.5,0.72)(1,0.5)(2,0.495)(5,0.49)(10,0.49)(20,0.485)(50,0.48)};
\addplot[ebic] coordinates {(0.5,0.3)(1,0.1)(2,0.11)(5,0.21)(10,0.23)(20,0.205)(50,0.18)};
\end{axis}
\begin{axis}[lin, at={(189.24pt,-452.82pt)}]
\addplot[aic] coordinates {(0.5,0.85)(1,0.55)(2,0.5)(5,0.475)(10,0.47)(20,0.47)(50,0.47)};
\addplot[bic] coordinates {(0.5,0.55)(1,0.35)(2,0.3)(5,0.25)(10,0.19)(20,0.14)(50,0.11)};
\addplot[cv] coordinates {(0.5,0.87)(1,0.56)(2,0.51)(5,0.49)(10,0.49)(20,0.49)(50,0.49)};
\addplot[ebic] coordinates {(0.5,0.4)(1,0.03)(2,0.05)(5,0.1)(10,0.13)(20,0.125)(50,0.1)};
\end{axis}
\begin{axis}[lin, at={(268.44pt,-452.82pt)}]
\addplot[aic] coordinates {(0.5,0.9)(1,0.7)(2,0.53)(5,0.48)(10,0.48)(20,0.48)(50,0.48)};
\addplot[bic] coordinates {(0.5,0.75)(1,0.5)(2,0.35)(5,0.2)(10,0.15)(20,0.1)(50,0.065)};
\addplot[cv] coordinates {(0.5,0.92)(1,0.72)(2,0.53)(5,0.48)(10,0.48)(20,0.48)(50,0.48)};
\addplot[ebic] coordinates {(0.5,0.55)(1,0.03)(2,0.03)(5,0.04)(10,0.05)(20,0.055)(50,0.055)};
\end{axis}
\begin{axis}[lin, at={(347.04pt,-452.82pt)}]
\addplot[aic] coordinates {(0.5,0.95)(1,0.75)(2,0.6)(5,0.48)(10,0.47)(20,0.47)(50,0.47)};
\addplot[bic] coordinates {(0.5,0.9)(1,0.6)(2,0.45)(5,0.23)(10,0.13)(20,0.08)(50,0.04)};
\addplot[cv] coordinates {(0.5,0.98)(1,0.78)(2,0.6)(5,0.48)(10,0.47)(20,0.47)(50,0.47)};
\addplot[ebic] coordinates {(0.5,0.7)(1,0.05)(2,0.03)(5,0.03)(10,0.03)(20,0.025)(50,0.025)};
\end{axis}
\begin{axis}[lin, at={(425.64pt,-452.82pt)}]
\addplot[aic] coordinates {(0.5,0.97)(1,0.85)(2,0.7)(5,0.5)(10,0.47)(20,0.47)(50,0.47)};
\addplot[bic] coordinates {(0.5,0.99)(1,0.85)(2,0.7)(5,0.5)(10,0.47)(20,0.36)(50,0.03)};
\addplot[cv] coordinates {(0.5,0.95)(1,0.85)(2,0.7)(5,0.5)(10,0.47)(20,0.47)(50,0.47)};
\addplot[ebic] coordinates {(0.5,0.8)(1,0.02)(2,0.02)(5,0.02)(10,0.02)(20,0.02)(50,0.02)};
\end{axis}
% r12 SF
\begin{axis}[lin, xl, at={(35.85pt,-494.16pt)}]
\addplot[aic] coordinates {(0.5,0.5)(1,0.3)(2,0.27)(5,0.21)(10,0.22)(20,0.2)(50,0.2)};
\addplot[bic] coordinates {(0.5,0.4)(1,0.12)(2,0.03)(5,0.01)(10,0.005)(20,0.003)(50,0.003)};
\addplot[cv] coordinates {(0.5,0.66)(1,0.47)(2,0.47)(5,0.47)(10,0.47)(20,0.47)(50,0.47)};
\addplot[ebic] coordinates {(0.5,0.35)(1,0.06)(2,0.01)(5,0.004)(10,0.002)(20,0.002)(50,0.002)};
\end{axis}
\begin{axis}[lin, xl, at={(110.79pt,-494.16pt)}]
\addplot[aic] coordinates {(0.5,0.55)(1,0.4)(2,0.385)(5,0.37)(10,0.36)(20,0.36)(50,0.36)};
\addplot[bic] coordinates {(0.5,0.55)(1,0.25)(2,0.1)(5,0.03)(10,0.01)(20,0.005)(50,0.003)};
\addplot[cv] coordinates {(0.5,0.8)(1,0.5)(2,0.485)(5,0.48)(10,0.48)(20,0.48)(50,0.48)};
\addplot[ebic] coordinates {(0.5,0.3)(1,0.03)(2,0.02)(5,0.01)(10,0.003)(20,0.002)(50,0.002)};
\end{axis}
\begin{axis}[lin, xl, at={(189.24pt,-494.16pt)}]
\addplot[aic] coordinates {(0.5,0.8)(1,0.65)(2,0.53)(5,0.48)(10,0.48)(20,0.48)(50,0.48)};
\addplot[bic] coordinates {(0.5,0.5)(1,0.3)(2,0.17)(5,0.1)(10,0.03)(20,0.012)(50,0.005)};
\addplot[cv] coordinates {(0.5,0.91)(1,0.68)(2,0.53)(5,0.48)(10,0.48)(20,0.48)(50,0.48)};
\addplot[ebic] coordinates {(0.5,0.35)(1,0.02)(2,0.01)(5,0.005)(10,0.002)(20,0.002)(50,0.002)};
\end{axis}
\begin{axis}[lin, xl, at={(268.44pt,-494.16pt)}]
\addplot[aic] coordinates {(0.5,0.9)(1,0.72)(2,0.58)(5,0.48)(10,0.47)(20,0.47)(50,0.47)};
\addplot[bic] coordinates {(0.5,0.75)(1,0.55)(2,0.42)(5,0.26)(10,0.1)(20,0.03)(50,0.01)};
\addplot[cv] coordinates {(0.5,0.96)(1,0.72)(2,0.58)(5,0.48)(10,0.47)(20,0.47)(50,0.47)};
\addplot[ebic] coordinates {(0.5,0.6)(1,0.07)(2,0.01)(5,0.005)(10,0.003)(20,0.003)(50,0.003)};
\end{axis}
\begin{axis}[lin, xl, at={(347.04pt,-494.16pt)}]
\addplot[aic] coordinates {(0.5,0.95)(1,0.75)(2,0.65)(5,0.5)(10,0.47)(20,0.46)(50,0.465)};
\addplot[bic] coordinates {(0.5,0.97)(1,0.76)(2,0.65)(5,0.5)(10,0.37)(20,0.15)(50,0.02)};
\addplot[cv] coordinates {(0.5,0.98)(1,0.75)(2,0.65)(5,0.5)(10,0.47)(20,0.46)(50,0.465)};
\addplot[ebic] coordinates {(0.5,0.9)(1,0.07)(2,0.02)(5,0.005)(10,0.003)(20,0.003)(50,0.003)};
\end{axis}
\begin{axis}[lin, xl, at={(425.64pt,-494.16pt)}]
\addplot[aic] coordinates {(0.5,1.0)(1,0.88)(2,0.78)(5,0.65)(10,0.5)(20,0.45)(50,0.44)};
\addplot[bic] coordinates {(0.5,1.0)(1,0.9)(2,0.8)(5,0.65)(10,0.5)(20,0.44)(50,0.4)};
\addplot[cv] coordinates {(0.5,0.75)(1,0.75)(2,0.74)(5,0.65)(10,0.5)(20,0.45)(50,0.44)};
\addplot[ebic] coordinates {(0.5,0.95)(1,0.05)(2,0.01)(5,0.01)(10,0.01)(20,0.01)(50,0.01)};
\end{axis}
% ================= labels =================
\begin{scope}[every node/.style={inner sep=0pt, text=stripc, font=\fontsize{7.8}{8}\selectfont}]
\node at (62.85pt,-9pt) {p: 10};
\node at (137.79pt,-9pt) {p: 20};
\node at (216.24pt,-9pt) {p: 50};
\node at (295.44pt,-9pt) {p: 100};
\node at (374.04pt,-9pt) {p: 200};
\node at (452.64pt,-9pt) {p: 500};
\foreach \yy/\lab in {35.4/Band,76.65/ER,117.9/KNN,159.15/SF,212.31/Band,253.83/ER,295.26/KNN,336.81/SF,389.04/Band,430.38/ER,471.72/KNN,513.06/SF}{
  \node[rotate=-90] at (485.4pt,-\yy pt) {\lab};
}
\end{scope}
\begin{scope}[every node/.style={inner sep=0pt, font=\fontsize{10.3}{11}\selectfont}]
\node[rotate=90] at (10.8pt,-97.2pt) {log10(SHD)};
\node[rotate=90] at (10.8pt,-274.5pt) {TPR};
\node[rotate=90] at (10.8pt,-450.9pt) {FDR};
\end{scope}
\begin{scope}[every node/.style={inner sep=0pt, font=\fontsize{7.9}{8}\selectfont}]
\foreach \xx in {62.85,137.79,216.24,295.44,374.04,452.64}{
  \node at (\xx pt,-544.5pt) {n (x100)};
}
\end{scope}
% legend
\node[anchor=west, inner sep=0pt, font=\fontsize{5.8}{6}\selectfont] at (191pt,-561.5pt) {criteria};
\draw[aicc, draw opacity=0.7, line width=1.2pt] (212.4pt,-561.5pt) -- (219.8pt,-561.5pt);
\draw[bicc, draw opacity=0.7, line width=1.2pt, dash pattern=on 2.4pt off 2.4pt] (240.8pt,-561.5pt) -- (248.2pt,-561.5pt);
\draw[cvc, draw opacity=0.7, line width=1.2pt, dash pattern=on 4.8pt off 2.4pt] (269.3pt,-561.5pt) -- (276.7pt,-561.5pt);
\draw[ebicc, draw opacity=0.7, line width=1.2pt, dash pattern=on 4.8pt off 4.8pt] (295.2pt,-561.5pt) -- (302.6pt,-561.5pt);
\begin{scope}[every node/.style={anchor=west, inner sep=0pt, font=\fontsize{7.8}{8}\selectfont}]
\node at (223.8pt,-561.5pt) {AIC};
\node at (252.3pt,-561.5pt) {BIC};
\node at (280.5pt,-561.5pt) {CV};
\node at (306.5pt,-561.5pt) {EBIC};
\end{scope}
\end{tikzpicture}
\end{document}
